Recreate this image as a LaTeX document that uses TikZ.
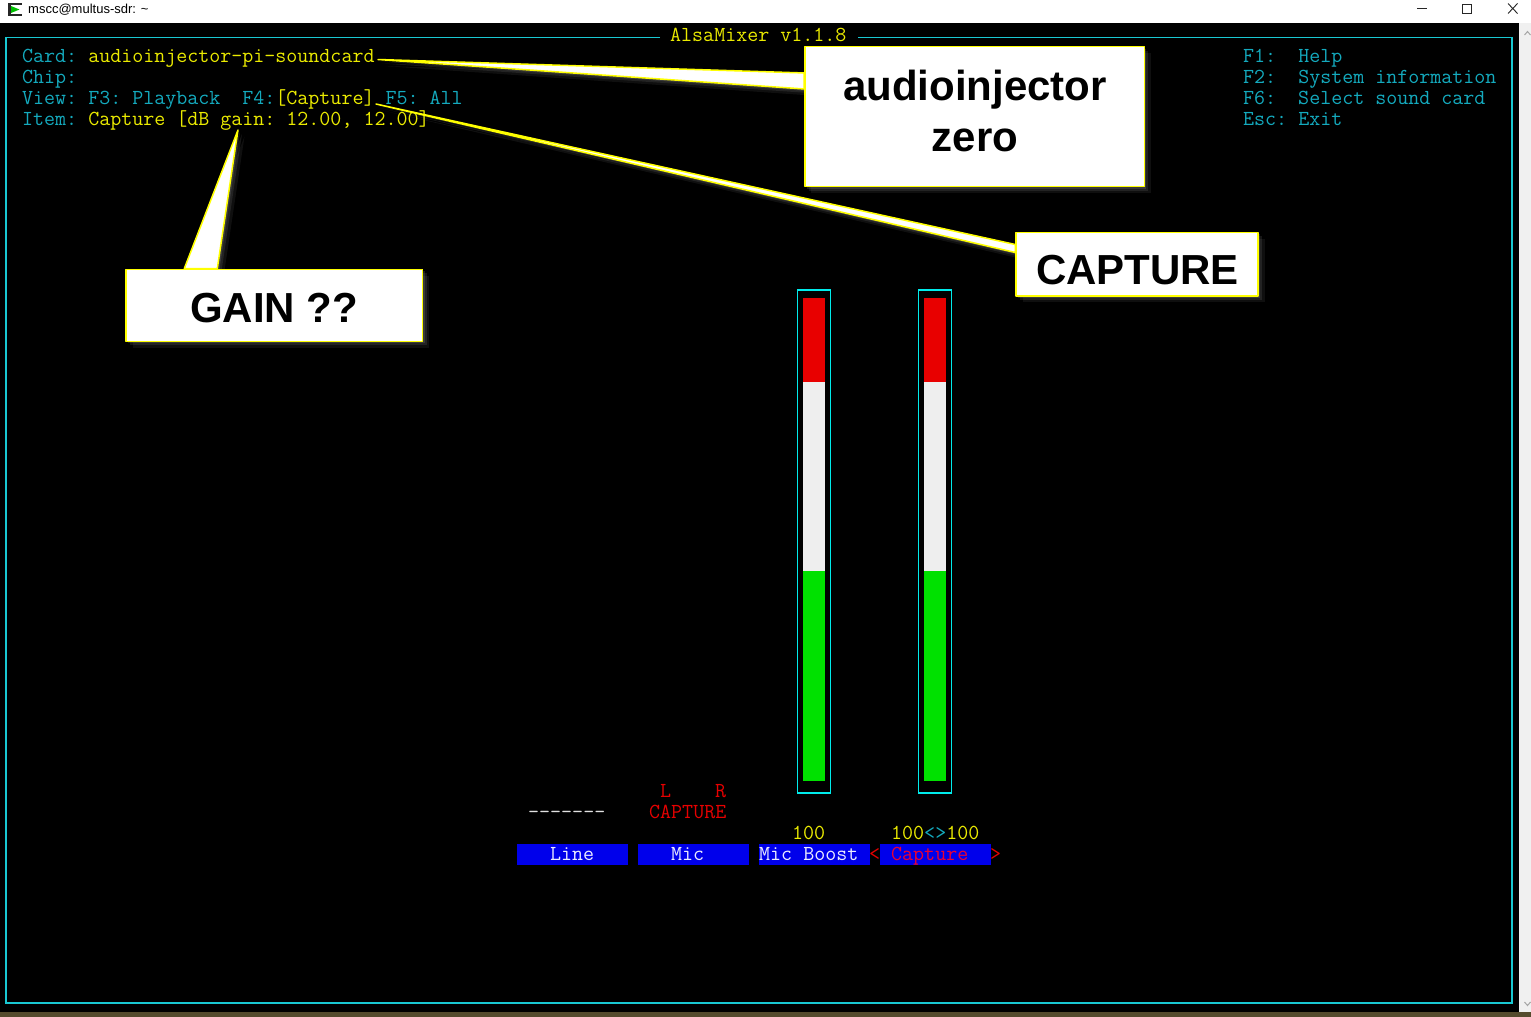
\documentclass[tikz,border=0pt]{standalone}
\usepackage{fontspec}
\newfontfamily\uifont{Liberation Sans}
\definecolor{tcyan}{RGB}{20,170,190}
\definecolor{tyellow}{RGB}{235,235,0}
\definecolor{fcyan}{RGB}{25,200,210}
\definecolor{mcyan}{RGB}{0,235,235}
\definecolor{tblue}{RGB}{0,0,235}
\definecolor{tred}{RGB}{230,0,0}
\definecolor{capred}{RGB}{235,0,50}
\definecolor{cyellow}{RGB}{255,255,0}
\definecolor{tgray}{RGB}{225,225,225}
\definecolor{lblwhite}{RGB}{235,235,255}
\definecolor{mred}{RGB}{232,0,0}
\definecolor{mwhite}{RGB}{238,238,238}
\definecolor{mgreen}{RGB}{0,225,0}
\definecolor{sbgray}{RGB}{240,240,240}
\definecolor{desk}{RGB}{85,75,45}
\definecolor{glowgray}{RGB}{150,150,150}
\pgfdeclarelayer{bg}
\pgfdeclarelayer{wedges}
\pgfsetlayers{bg,wedges,main}
\begin{document}
\begin{tikzpicture}[x=1pt,y=-1pt,
  term/.style={anchor=base west, inner sep=0pt, font=\ttfamily\frenchspacing\fontsize{21.38pt}{21pt}\selectfont},
  glow/.style={
    preaction={fill=glowgray, fill opacity=0.22, draw=none, transform canvas={xshift=2pt,yshift=-2pt}},
    preaction={fill=glowgray, fill opacity=0.15, draw=none, transform canvas={xshift=4pt,yshift=-4pt}},
    preaction={fill=glowgray, fill opacity=0.10, draw=none, transform canvas={xshift=6.5pt,yshift=-6.5pt}}},
  callout/.style={fill=white, draw=cyellow, line width=1.5pt, line join=round, inner sep=0pt, glow},
  calltext/.style={anchor=base, inner sep=0pt, text=black, font=\uifont\bfseries\fontsize{42pt}{50pt}\selectfont},
  keybox/.style={fill=tblue, inner sep=0pt, minimum width=110.5pt, minimum height=21pt, anchor=north west},
  meterframe/.style={draw=mcyan, line width=1.5pt},
]
\useasboundingbox (0,0) rectangle (1531,1017);
\begin{pgfonlayer}{bg}
  % window chrome
  \fill[white] (0,0) rectangle (1531,23);
  \fill[black] (0,23) rectangle (1519,1012);
  \fill[sbgray] (1519,23) rectangle (1531,1012);
  \fill[desk] (0,1012) rectangle (1531,1017);
  \draw[gray!70, line width=1pt] (1524.5,35) -- (1527.5,31.5) -- (1530.5,35);
  \draw[gray!70, line width=1pt] (1524.5,1002) -- (1527.5,1005.5) -- (1530.5,1002);
  \fill[black!85] (8,3) rectangle (22,16);
  \fill[white] (10.5,5) rectangle (22,14);
  \fill[green!75!black] (11,6) -- (19.5,9.5) -- (11,13) -- cycle;
  \node[anchor=base west, inner sep=0pt, font=\uifont\fontsize{13pt}{15pt}\selectfont, text=black] (wintitle) at (28,13.5) {mscc@multus-sdr: \textasciitilde};
  \draw[black!85, line width=0.9pt] (1417,8.5) -- (1427,8.5);
  \draw[black!85, line width=0.9pt] (1462.5,4) rectangle (1471.5,13);
  \draw[black!85, line width=0.9pt] (1508,3.5) -- (1517.5,13.5) (1508,13.5) -- (1517.5,3.5);
  % alsamixer frame
  \draw[fcyan, line width=1.5pt] (660,37.5) -- (6,37.5) -- (6,1003) -- (1512,1003) -- (1512,37.5) -- (858,37.5);
  \node[term, text=tyellow] (title) at (670,41) {AlsaMixer v1.1.8};
  % header lines
  \node[term] (card) at (22,62.5) {\textcolor{tcyan}{Card:} \textcolor{tyellow}{audioinjector-pi-soundcard}};
  \node[term, text=tcyan] (chip) at (22,83.5) {Chip:};
  \node[term, text=tcyan] (view) at (22,104.5) {View: F3: Playback~~F4:\textcolor{tyellow}{[Capture]} F5: All};
  \node[term] (item) at (22,125.5) {\textcolor{tcyan}{Item:} \textcolor{tyellow}{Capture [dB gain: 12.00, 12.00]}};
  \node[term, text=tcyan] (f1) at (1243,62.5) {F1:~~Help};
  \node[term, text=tcyan] (f2) at (1243,83.5) {F2:~~System information};
  \node[term, text=tcyan] (f6) at (1243,104.5) {F6:~~Select sound card};
  \node[term, text=tcyan] (esc) at (1243,125.5) {Esc: Exit};
  % meters
  \draw[meterframe] (797.5,290) rectangle (830.5,793);
  \fill[mred] (803,298) rectangle (825,381.5);
  \fill[mwhite] (803,381.5) rectangle (825,571);
  \fill[mgreen] (803,571) rectangle (825,780.5);
  \draw[meterframe] (918.5,290) rectangle (951.5,793);
  \fill[mred] (924,298) rectangle (946,381.5);
  \fill[mwhite] (924,381.5) rectangle (946,571);
  \fill[mgreen] (924,571) rectangle (946,780.5);
  % bottom texts
  \node[term, text=tgray] (dashes) at (528,818.5) {-\kern0pt-\kern0pt-\kern0pt-\kern0pt-\kern0pt-\kern0pt-};
  \node[term, text=tred] (lch) at (660,797.5) {L};
  \node[term, text=tred] (rch) at (715,797.5) {R};
  \node[term, text=tred] (capsw) at (649,818.5) {CAPTURE};
  \node[term, text=tyellow] (boostval) at (792,839.5) {100};
  \node[term] (capval) at (891,839.5) {\textcolor{tyellow}{100}\textcolor{tcyan}{<>}\textcolor{tyellow}{100}};
  \node[keybox] (linebox) at (517,844) {};
  \node[keybox] (micbox) at (638,844) {};
  \node[keybox] (boostbox) at (759,844) {};
  \node[keybox] (capbox) at (880,844) {};
  \node[term, text=lblwhite] (linelbl) at (550,860.5) {Line};
  \node[term, text=lblwhite] (miclbl) at (671,860.5) {Mic};
  \node[term, text=lblwhite] (boostlbl) at (759,860.5) {Mic Boost};
  \node[term, text=tred] (ltmark) at (869,860.5) {<};
  \node[term, text=capred] (caplbl) at (891,860.5) {Capture};
  \node[term, text=tred] (gtmark) at (990,860.5) {>};
\end{pgfonlayer}
% callout boxes
\node[callout, minimum width=339.5pt, minimum height=140pt] (boxA) at (974.5,116.7) {};
\node[calltext] (txtA1) at (975,100) {audioinjector};
\node[calltext] (txtA2) at (975,151) {zero};
\node[callout, minimum width=242pt, minimum height=63.5pt] (boxB) at (1137,264) {};
\node[calltext] (txtB) at (1137.5,284.5) {CAPTURE};
\node[callout, minimum width=296.5pt, minimum height=72pt] (boxC) at (274.3,305.3) {};
\node[calltext] (txtC) at (274,322) {GAIN ??};
% pointer wedges
\coordinate (tipA) at (378,59.5);
\coordinate (tipB) at (376,104);
\coordinate (tipC) at (238,130);
\begin{pgfonlayer}{wedges}
  \path[callout] (tipA) -- ([yshift=-27pt]boxA.north west) -- ([yshift=-43pt]boxA.north west) -- cycle;
  \path[callout] (tipB) -- ([yshift=-13pt]boxB.north west) -- ([yshift=-21pt]boxB.north west) -- cycle;
  \path[callout] (tipC) -- ([xshift=59pt]boxC.north west) -- ([xshift=92pt]boxC.north west) -- cycle;
\end{pgfonlayer}
\end{tikzpicture}
\end{document}
